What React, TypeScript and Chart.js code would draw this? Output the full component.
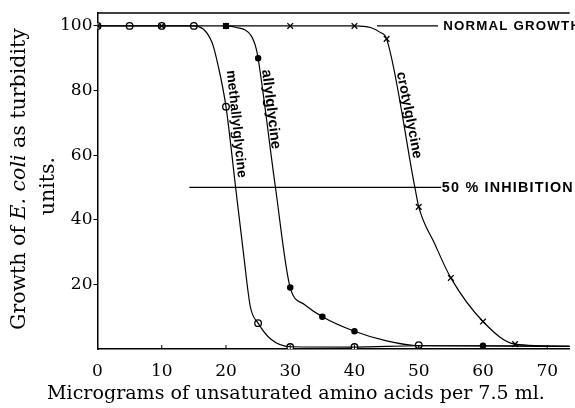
import React, { useEffect, useRef } from "react";
import Chart from "chart.js/auto";

// ---- data ----
const xTicks = [0, 10, 20, 30, 40, 50, 60, 70];
const yTicks = [20, 40, 60, 80, 100];

// markers
const methallylX = [0, 5, 10, 15, 20, 25, 30, 40, 50];
const methallylY = [100, 100, 100, 100, 75, 8, 0.6, 0.6, 1.2];
const allylX = [0, 10, 20, 25, 30, 35, 40, 50, 60];
const allylY = [100, 100, 100, 90, 19, 10, 5.5, 1, 1];
const crotylX = [0, 10, 20, 30, 40, 45, 50, 55, 60, 65];
const crotylY = [100, 100, 100, 100, 100, 96, 44, 22, 8.5, 1.5];

// drawn curves
const methallylCurveX = [0, 15, 17.8, 18.8, 20, 21.5, 22.7, 23.8, 25, 27, 30, 40, 50, 73.5];
const methallylCurveY = [100, 100, 95, 87.5, 75, 50, 30, 13, 8, 3, 0.7, 0.6, 1, 0.8];
const allylCurveX = [20, 21.5, 23.9, 24.7, 25, 27.7, 30, 32.2, 35, 40, 45, 50, 60, 73.5];
const allylCurveY = [100, 99.6, 97, 93, 90, 50, 19, 13.8, 10, 5.5, 2.5, 1, 1, 0.8];
const crotylCurveX = [0, 40, 42.5, 44, 45, 49.4, 50, 52.5, 55, 60, 65, 73.5];
const crotylCurveY = [100, 100, 99.5, 98, 96, 50, 44, 32.5, 22, 8.5, 1.5, 0.8];

// reference lines
const normalGrowthX = [43.5, 53];
const normalGrowthY = [100, 100];
const inhibitionX = [14.3, 53.5];
const inhibitionY = [50, 50];

const pts = (xs: number[], ys: number[]) => xs.map((x, i) => ({ x, y: ys[i] }));

const SERIF = '"DejaVu Serif", serif';
const SANS = '"Liberation Sans", Arial, sans-serif';

function fitFont(ctx: CanvasRenderingContext2D, text: string, style: string, family: string, target: number) {
  ctx.font = `${style} 20px ${family}`;
  const w = ctx.measureText(text).width;
  const size = (20 * target) / w;
  ctx.font = `${style} ${size}px ${family}`;
  return size;
}

const annot = {
  id: "annot",
  afterDatasetsDraw(chart: any) {
    const { ctx, chartArea: a, scales } = chart;
    const x = scales.x, y = scales.y;
    ctx.save();
    // top frame
    ctx.strokeStyle = "#000";
    ctx.lineWidth = 1.5;
    ctx.beginPath();
    ctx.moveTo(a.left, a.top);
    ctx.lineTo(a.right, a.top);
    ctx.stroke();
    // inward x ticks
    ctx.lineWidth = 1;
    ctx.beginPath();
    for (const v of xTicks) {
      if (v === 0) continue;
      const px = x.getPixelForValue(v);
      ctx.moveTo(px, a.bottom);
      ctx.lineTo(px, a.bottom - 4);
    }
    ctx.stroke();

    ctx.fillStyle = "#000";
    ctx.textBaseline = "middle";
    ctx.textAlign = "left";
    (ctx as any).letterSpacing = "1.2px";
    fitFont(ctx, "NORMAL GROWTH", "bold", SANS, 133);
    ctx.fillText("NORMAL GROWTH", x.getPixelForValue(53.8), y.getPixelForValue(100) + 0.5);
    fitFont(ctx, "50 % INHIBITION", "bold", SANS, 127);
    ctx.fillText("50 % INHIBITION", x.getPixelForValue(53.6), y.getPixelForValue(50) + 0.5);
    (ctx as any).letterSpacing = "0px";

    const labels = [
      { t: "methallylglycine", x: 21.6, y: 69.6, ang: 84, len: 108 },
      { t: "allylglycine", x: 27.0, y: 74.2, ang: 83, len: 80 },
      { t: "crotylglycine", x: 48.5, y: 72.4, ang: 79, len: 88 },
    ];
    for (const l of labels) {
      ctx.save();
      ctx.translate(x.getPixelForValue(l.x), y.getPixelForValue(l.y));
      ctx.rotate((l.ang * Math.PI) / 180);
      ctx.textAlign = "center";
      fitFont(ctx, l.t, "bold", SANS, l.len);
      ctx.fillText(l.t, 0, 0);
      ctx.restore();
    }
    ctx.restore();
  },
  afterDraw(chart: any) {
    const { ctx } = chart;
    ctx.save();
    ctx.fillStyle = "#000";
    ctx.textBaseline = "middle";
    // x title
    ctx.textAlign = "center";
    fitFont(ctx, "Micrograms of unsaturated amino acids per 7.5 ml.", "normal", SERIF, 498);
    ctx.fillText("Micrograms of unsaturated amino acids per 7.5 ml.", 296, 394);

    // y title (two lines, rotated)
    const segs = [
      { t: "Growth of ", s: "normal" },
      { t: "E. coli", s: "italic" },
      { t: " as turbidity", s: "normal" },
    ];
    const base = 16;
    let total = 0;
    for (const sg of segs) {
      ctx.font = `${sg.s} ${base}px ${SERIF}`;
      total += ctx.measureText(sg.t).width;
    }
    const size = (base * 302) / total;
    ctx.save();
    ctx.translate(20, 179);
    ctx.rotate(-Math.PI / 2);
    ctx.textAlign = "left";
    let cx = -151;
    for (const sg of segs) {
      ctx.font = `${sg.s} ${size}px ${SERIF}`;
      ctx.fillText(sg.t, cx, 0);
      cx += ctx.measureText(sg.t).width;
    }
    ctx.restore();
    ctx.save();
    ctx.translate(49, 186);
    ctx.rotate(-Math.PI / 2);
    ctx.textAlign = "center";
    ctx.font = `normal ${size}px ${SERIF}`;
    ctx.fillText("units.", 0, 0);
    ctx.restore();
    ctx.restore();
  },
};

const curve = (xs: number[], ys: number[]) => ({
  data: pts(xs, ys),
  borderColor: "#000",
  borderWidth: 1.2,
  pointRadius: 0,
  fill: false,
  cubicInterpolationMode: "monotone" as const,
});

const straight = (xs: number[], ys: number[]) => ({
  data: pts(xs, ys),
  borderColor: "#000",
  borderWidth: 1.3,
  pointRadius: 0,
  fill: false,
});

const markers = (xs: number[], ys: number[], style: string, radius: number, fillColor: string) => ({
  data: pts(xs, ys),
  showLine: false,
  pointStyle: style,
  pointRadius: radius,
  pointBackgroundColor: fillColor,
  pointBorderColor: "#000",
  pointBorderWidth: 1.3,
  borderColor: "#000",
});

export default function App() {
  const ref = useRef<HTMLCanvasElement>(null);
  useEffect(() => {
    document.body.style.margin = "0";
    const chart = new Chart(ref.current!, {
      type: "line",
      data: {
        datasets: [
          straight(normalGrowthX, normalGrowthY),
          straight(inhibitionX, inhibitionY),
          curve(methallylCurveX, methallylCurveY),
          curve(allylCurveX, allylCurveY),
          curve(crotylCurveX, crotylCurveY),
          markers(crotylX, crotylY, "crossRot", 4, "#000"),
          markers(methallylX, methallylY, "circle", 3.3, "#fff"),
          markers(allylX, allylY, "circle", 2.6, "#000"),
        ] as any,
      },
      options: {
        responsive: false,
        animation: false,
        events: [],
        layout: { padding: { top: 13, left: 0, right: 0, bottom: 0 } },
        plugins: { legend: { display: false }, tooltip: { enabled: false } },
        scales: {
          x: {
            type: "linear",
            min: 0,
            max: 73.5,
            afterBuildTicks: (s: any) => {
              s.ticks = xTicks.map((v) => ({ value: v }));
            },
            afterFit: (s: any) => {
              s.height = 59;
            },
            ticks: {
              font: { family: SERIF, size: 17 },
              color: "#000",
              padding: 12,
              maxRotation: 0,
              autoSkip: false,
            },
            grid: { display: true, drawOnChartArea: false, drawTicks: false, color: "#000" },
            border: { color: "#000", width: 1.5 },
          },
          y: {
            type: "linear",
            min: 0,
            max: 104,
            afterBuildTicks: (s: any) => {
              s.ticks = yTicks.map((v) => ({ value: v }));
            },
            afterFit: (s: any) => {
              s.width = 97.5;
            },
            ticks: {
              font: { family: SERIF, size: 17 },
              color: "#000",
              padding: 1,
            },
            grid: { display: true, drawOnChartArea: false, drawTicks: true, tickLength: 4, color: "#000" },
            border: { color: "#000", width: 1.5 },
          },
        },
      },
      plugins: [annot],
    });
    return () => chart.destroy();
  }, []);
  return (
    <div style={{ width: 575, height: 408 }}>
      <canvas ref={ref} width={575} height={408} />
    </div>
  );
}
